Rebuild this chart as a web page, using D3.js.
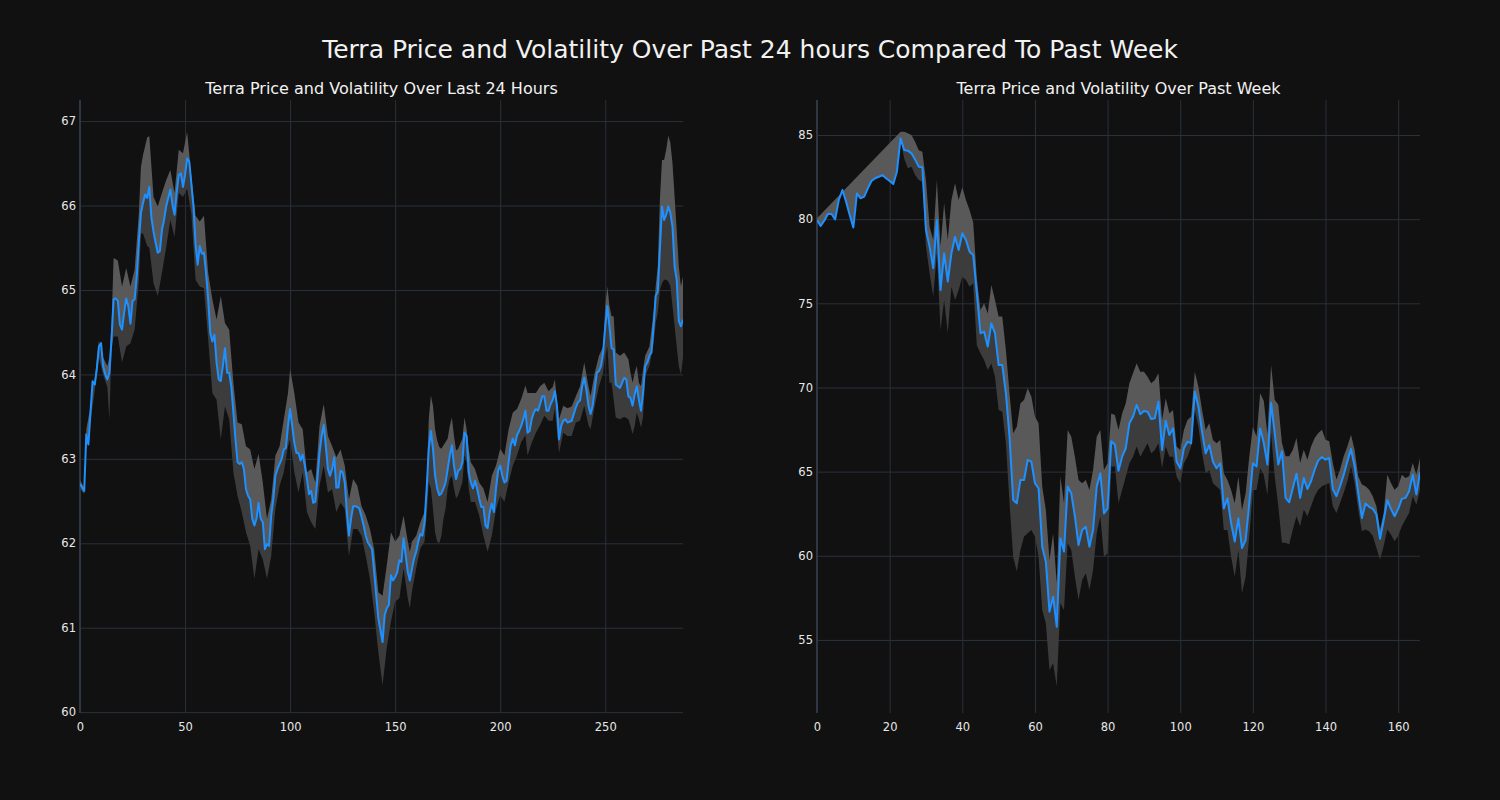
<!DOCTYPE html>
<html>
<head>
<meta charset="utf-8">
<script src="https://cdn.jsdelivr.net/npm/d3@7"></script>
<style>
  html, body { margin: 0; padding: 0; background: #111111; }
  svg { display: block; }
</style>
</head>
<body>
<svg id="chart" width="1500" height="800"></svg>
<script>
// ---------------- DATA ----------------
const mainTitle = "Terra Price and Volatility Over Past 24 hours Compared To Past Week";
const leftTitle = "Terra Price and Volatility Over Last 24 Hours";
const rightTitle = "Terra Price and Volatility Over Past Week";

// 24h price (5-minute steps, index 0..287)
const dayPrice = [62.7,62.66,62.62,63.29,63.17,63.55,63.92,63.88,64.06,64.33,64.37,64.1,64.0,63.94,64.02,64.41,64.89,64.9,64.87,64.59,
64.53,64.73,64.9,64.81,64.6,64.87,64.89,65.16,65.56,65.91,66.03,66.13,66.09,66.22,65.85,65.69,65.56,65.44,65.46,65.71,
65.83,65.99,66.09,66.19,66.01,65.89,66.15,66.36,66.38,66.22,66.36,66.56,66.52,66.26,65.99,65.54,65.3,65.52,65.43,65.44,
65.2,64.89,64.49,64.39,64.47,64.14,63.94,63.92,64.1,64.31,64.02,64.02,63.86,63.55,63.23,62.96,62.94,62.96,62.88,62.64,
62.56,62.52,62.29,62.21,62.29,62.48,62.29,62.25,61.93,61.99,61.97,62.33,62.52,62.8,62.88,62.94,63.0,63.11,63.13,63.39,
63.59,63.39,63.19,63.07,63.07,62.98,63.05,62.92,62.76,62.58,62.62,62.48,62.49,62.76,63.07,63.27,63.4,63.15,62.88,62.8,
62.88,63.02,62.66,62.66,62.86,62.84,62.72,62.37,62.09,62.29,62.44,62.44,62.43,62.41,62.31,62.21,62.09,62.01,61.97,61.93,
61.66,61.38,61.11,60.97,60.83,61.15,61.23,61.27,61.62,61.56,61.6,61.66,61.8,61.78,62.06,61.86,61.66,61.56,61.7,61.82,
61.9,62.02,62.11,62.09,62.25,62.65,63.12,63.33,63.12,62.8,62.65,62.57,62.59,62.65,62.72,62.88,63.04,63.16,62.92,62.76,
62.86,62.88,62.96,63.31,63.27,62.84,62.72,62.65,62.74,62.65,62.53,62.43,62.43,62.21,62.18,62.37,62.47,62.37,62.65,62.86,
62.92,62.8,62.72,62.74,62.96,63.16,63.24,63.16,63.28,63.33,63.39,63.47,63.57,63.31,63.33,63.47,63.55,63.59,63.57,63.65,
63.74,63.74,63.57,63.57,63.65,63.7,63.8,63.63,63.23,63.39,63.45,63.47,63.43,63.44,63.45,63.53,63.61,63.67,63.69,63.86,
63.96,63.82,63.63,63.53,63.63,63.82,64.02,64.04,64.1,64.26,64.57,64.81,64.57,64.31,64.3,63.88,63.86,63.84,63.9,63.96,
63.94,63.74,63.72,63.63,63.76,63.86,63.7,63.57,63.78,64.1,64.14,64.22,64.26,64.57,64.93,64.98,65.48,65.99,65.83,65.89,
65.99,65.91,65.75,65.28,65.12,64.63,64.57,64.65];

// 24h volatility band, read at these indices
const dayBandX = [0,2,3,5,7,9,11,13,14,15,16,18,20,22,24,26,28,29,30,32,33,35,37,39,41,43,45,47,49,51,53,55,57,59,61,63,65,67,69,71,
73,75,77,79,81,83,85,87,89,91,93,95,97,99,100,102,104,106,108,110,112,114,116,118,120,122,124,126,128,130,132,134,136,138,140,142,144,146,148,150,
152,154,156,157,158,160,162,164,165,166,167,168,169,170,171,172,173,174,175,176,177,178,179,180,182,183,184,185,186,188,190,192,194,196,198,200,202,204,206,208,
210,212,213,215,217,219,221,223,225,226,228,230,232,234,236,238,240,242,243,245,247,249,250,251,252,253,254,255,257,259,261,262,263,264,265,266,267,268,269,271,
273,274,275,276,277,278,279,280,281,282,283,284,285,286,287];
const dayUpper = [62.75,62.66,63.35,63.62,63.95,64.4,64.2,64.1,64.2,64.6,65.38,65.35,65.04,65.26,65.04,65.24,65.9,66.46,66.6,66.81,66.82,66.1,65.99,66.15,66.3,66.42,66.15,66.66,66.62,66.87,
66.35,65.88,65.81,65.88,65.2,64.89,64.65,64.93,64.61,64.53,
63.9,63.43,63.41,63.15,63.11,62.88,63.06,62.72,62.29,62.52,63.04,63.15,63.47,63.78,64.06,63.78,63.43,63.35,62.84,62.88,62.72,63.39,63.65,63.27,63.15,63.02,63.11,62.92,62.52,62.76,62.68,62.44,62.33,62.17,61.93,61.42,61.38,61.74,62.13,62.02,
62.09,62.33,62.02,61.9,62.02,62.09,62.25,62.37,62.72,63.47,63.75,63.63,63.35,63.22,63.14,63.12,63.16,63.2,63.24,63.39,63.49,63.27,63.1,63.12,63.24,63.49,63.35,63.12,62.96,62.88,62.72,62.65,62.49,62.8,62.92,63.12,63.04,63.35,63.55,63.59,
63.71,63.87,63.78,63.78,63.78,63.86,63.9,63.8,63.85,63.94,63.47,63.63,63.6,63.62,63.74,63.86,64.14,63.86,63.74,64.02,64.22,64.33,64.81,65.04,64.81,64.69,64.69,64.26,64.22,64.26,64.18,64.02,63.9,64.02,64.1,63.9,63.86,64.06,64.22,64.33,
64.73,65.04,65.28,66.07,66.54,66.54,66.66,66.83,66.74,66.5,66.11,65.71,65.28,65.04,65.16];
const dayLower = [62.65,62.58,63.2,63.45,63.8,64.2,64.0,63.85,63.47,64.3,64.45,64.45,64.14,64.33,64.37,64.53,65.1,65.67,65.67,65.52,65.5,65.08,64.93,65.2,65.5,65.83,65.63,66.15,66.1,66.2,
65.9,65.12,65.04,65.02,64.41,63.78,63.7,63.23,63.62,63.47,
62.84,62.56,62.37,62.13,61.97,61.58,61.93,61.81,61.58,61.85,62.41,62.68,62.84,63.15,63.23,62.84,62.6,62.84,62.37,62.25,62.17,62.68,62.92,62.6,62.64,62.37,62.48,62.41,61.85,62.17,62.17,62.09,61.85,61.58,61.19,60.71,60.32,60.76,61.07,61.31,
61.35,61.7,61.35,61.23,61.43,61.7,61.94,62.02,62.33,62.72,62.65,62.41,62.13,62.02,62.0,62.09,62.29,62.41,62.65,62.76,62.8,62.65,62.53,62.57,62.72,63.04,62.96,62.65,62.49,62.49,62.33,62.09,61.9,62.09,62.4,62.57,62.49,62.72,62.92,63.04,
63.2,63.28,63.04,63.19,63.31,63.4,63.51,63.45,63.45,63.6,63.07,63.31,63.27,63.27,63.43,63.45,63.63,63.4,63.35,63.63,63.86,64.02,64.22,64.33,63.9,63.9,63.7,63.49,63.47,63.5,63.47,63.39,63.29,63.39,63.55,63.47,63.37,63.5,63.98,64.1,
64.37,64.61,64.73,65.0,65.08,65.12,65.12,65.1,65.04,64.81,64.57,64.33,64.1,64.0,64.2];

// Week price (hourly, index 0..166)
const weekPrice = [79.95,79.6,79.91,80.31,80.31,79.99,81.14,81.73,81.04,80.25,79.5,81.53,81.24,81.34,81.83,82.27,82.43,82.52,82.62,82.43,
82.27,82.09,82.82,84.8,84.11,84.07,83.91,83.55,83.12,83.08,79.36,78.37,77.08,79.95,75.79,77.97,76.29,77.97,78.96,78.17,
79.16,78.76,78.07,77.87,75.59,73.22,73.32,72.43,73.81,73.22,71.34,71.34,69.65,67.08,63.32,63.12,64.5,64.5,65.69,65.59,
64.31,64.01,60.54,59.65,56.68,57.57,55.79,61.04,60.25,64.11,63.71,62.33,60.64,61.53,61.73,60.54,61.53,64.11,64.9,62.52,
62.82,66.8,66.6,65.05,65.89,66.39,67.87,68.27,68.96,68.41,68.6,68.56,68.13,68.17,69.16,66.29,68.03,67.18,67.57,65.59,
65.2,66.39,66.78,66.68,69.75,68.86,67.38,66.09,66.58,65.59,65.2,65.5,62.82,63.42,61.93,60.84,62.23,60.45,60.94,63.12,
65.5,65.3,67.57,66.7,65.42,69.1,67.29,65.42,66.21,63.44,63.18,64.03,64.88,63.44,64.62,63.97,64.43,65.12,65.67,65.87,
65.71,65.81,63.97,63.54,64.13,64.82,65.61,66.34,65.32,63.74,62.25,63.1,62.91,62.79,62.45,61.01,62.11,63.3,62.79,62.35,
62.79,63.38,63.44,63.83,64.82,63.64,64.96];

// Week volatility band
const weekUpperX = [0,23,24,25,26,27,28,29,30,31,32,33,34,35,36,37,38,39,40,41,42,43,44,45,46,47,48,49,50,51,52,53,54,55,56,57,58,59,60,
61,62,63,64,65,66,67,68,69,70,71,72,73,74,75,76,77,78,79,80,81,82,83,84,85,86,87,88,89,90,91,92,93,94,95,96,97,98,99,100,
101,102,103,104,105,106,107,108,109,110,111,112,113,114,115,116,117,118,119,120,121,122,123,124,125,126,127,128,129,130,131,132,133,134,135,136,137,138,139,140,
141,142,143,144,145,146,147,148,149,150,151,152,153,154,155,156,157,158,159,160,161,162,163,164,165,166];
const weekUpper = [80.05,85.2,85.2,85.1,85.0,84.6,84.1,84.0,82.3,79.55,78.76,82.33,78.37,80.94,78.76,81.14,82.13,81.14,81.89,81.14,80.54,79.8,76.5,74.6,75.0,74.4,76.09,75.2,74.21,74.21,72.23,69.65,67.28,67.67,69.06,69.26,69.95,69.46,68.27,
67.87,64.11,62.72,59.75,61.34,58.37,64.7,63.12,67.48,67.08,65.89,64.5,64.31,64.5,63.91,65.1,67.08,67.48,65.1,65.5,68.46,68.37,67.48,68.46,69.06,70.25,70.84,71.44,70.94,70.94,70.64,70.25,70.45,70.84,68.07,69.36,68.46,68.66,66.49,66.29,
67.48,68.07,68.27,70.94,70.05,68.66,67.48,67.87,66.88,66.68,66.88,64.9,64.5,63.91,63.12,64.7,62.72,63.71,65.89,67.67,67.08,69.65,69.2,67.2,71.34,69.27,68.97,66.7,65.91,65.91,66.3,67.0,65.52,66.3,65.71,66.5,67.0,67.29,67.49,66.9,
66.8,65.52,64.53,65.12,65.91,66.5,67.19,66.3,64.72,64.23,64.13,63.93,63.54,62.94,61.56,62.55,64.82,64.33,63.93,64.13,64.82,64.62,64.72,65.52,64.82,65.81];
const weekLowerX = [23,24,25,26,27,28,29,30,31,32,33,34,35,36,37,38,39,40,41,42,43,44,45,46,47,48,49,50,51,52,53,54,55,56,57,58,59,60,
61,62,63,64,65,66,67,68,69,70,71,72,73,74,75,76,77,78,79,80,81,82,83,84,85,86,87,88,89,90,91,92,93,94,95,96,97,98,99,100,
101,102,103,104,105,106,107,108,109,110,111,112,113,114,115,116,117,118,119,120,121,122,123,124,125,126,127,128,129,130,131,132,133,134,135,136,137,138,139,140,
141,142,143,144,145,146,147,148,149,150,151,152,153,154,155,156,157,158,159,160,161,162,163,164,165,166];
const weekLower = [84.8,83.6,83.02,83.12,82.62,82.33,82.23,78.37,76.78,75.4,77.97,73.42,75.2,73.22,75.99,75.2,75.79,76.58,76.39,75.99,76.19,72.5,72.03,71.63,71.04,71.43,70.64,68.66,68.56,66.68,63.12,59.95,59.06,60.35,61.14,61.34,61.53,61.14,
59.95,56.78,55.99,53.22,53.61,52.23,57.18,56.78,60.74,60.35,58.76,57.38,58.56,58.96,57.97,59.16,61.34,62.33,59.95,60.15,65.3,65.3,63.12,63.91,64.7,65.5,65.89,66.49,65.89,66.29,66.68,66.09,66.29,66.68,65.2,66.49,65.89,65.89,64.7,64.31,
65.5,65.89,66.49,68.66,67.67,66.09,64.9,65.1,64.31,64.11,63.91,61.53,61.53,59.95,58.76,60.35,57.77,58.76,61.14,63.91,63.91,65.2,64.8,63.6,67.29,64.72,62.94,60.77,60.77,60.67,61.56,62.35,61.76,62.75,62.35,62.94,63.54,63.93,64.13,64.23,
64.33,62.94,62.55,63.14,63.74,64.43,65.32,64.33,62.75,61.46,61.56,61.46,61.17,60.47,59.78,60.57,61.56,61.26,60.87,61.17,61.76,62.15,62.55,63.54,63.04,63.93];

// Tick labels
const dayXTicks = [0, 50, 100, 150, 200, 250];
const dayYTicks = [60, 61, 62, 63, 64, 65, 66, 67];
const weekXTicks = [0, 20, 40, 60, 80, 100, 120, 140, 160];
const weekYTicks = [55, 60, 65, 70, 75, 80, 85];

// ---------------- DRAW ----------------
const svg = d3.select("#chart");
const FONT = "DejaVu Sans, Verdana, sans-serif";
const COLORS = { bg: "#111111", grid: "#29313b", spine: "#2e3845", text: "#e8e8e8",
                 line: "#1e90ff", light: "#595959", dark: "#3c3c3c" };

svg.append("rect").attr("width", 1500).attr("height", 800).attr("fill", COLORS.bg);

svg.append("text")
  .attr("x", 750).attr("y", 51)
  .attr("text-anchor", "middle").attr("dominant-baseline", "middle")
  .attr("font-family", FONT).attr("font-size", 25).attr("fill", "#f2f2f2")
  .text(mainTitle);

function drawPanel(cfg) {
  const x = d3.scaleLinear().domain(cfg.xDomain).range([cfg.left, cfg.right]);
  const y = d3.scaleLinear().domain(cfg.yDomain).range([cfg.bottom, cfg.top]);
  const g = svg.append("g");

  const gx = g.append("g").attr("transform", `translate(0,${cfg.bottom})`)
    .call(d3.axisBottom(x).tickValues(cfg.xTicks).tickSize(-(cfg.bottom - cfg.top)).tickPadding(10).tickFormat(d3.format("d")));
  const gy = g.append("g").attr("transform", `translate(${cfg.left},0)`)
    .call(d3.axisLeft(y).tickValues(cfg.yTicks).tickSize(-(cfg.right - cfg.left)).tickPadding(4).tickFormat(d3.format("d")));
  [gx, gy].forEach(a => {
    a.select(".domain").remove();
    a.selectAll(".tick line").attr("stroke", COLORS.grid).attr("stroke-width", 1);
    a.selectAll(".tick text").attr("fill", COLORS.text).attr("font-family", FONT).attr("font-size", 11.5);
  });

  g.append("line").attr("x1", cfg.left).attr("x2", cfg.left)
    .attr("y1", cfg.top).attr("y2", cfg.bottom)
    .attr("stroke", COLORS.spine).attr("stroke-width", 2);

  const clipId = "clip-" + cfg.id;
  svg.append("clipPath").attr("id", clipId).append("rect")
    .attr("x", cfg.left).attr("y", cfg.top)
    .attr("width", cfg.right - cfg.left).attr("height", cfg.bottom - cfg.top);
  const plot = g.append("g").attr("clip-path", `url(#${clipId})`);

  const lineGen = d3.line().x(d => x(d[0])).y(d => y(d[1]));
  const pricePts = cfg.price.map((v, i) => [i, v]);
  const priceBetween = (a, b) => pricePts.filter(p => p[0] >= a && p[0] <= b);

  const upPts = cfg.upperX.map((xv, k) => [xv, cfg.upper[k]]);
  const lightPoly = upPts.concat(priceBetween(upPts[0][0], upPts[upPts.length - 1][0]).reverse());
  plot.append("path").attr("d", lineGen(lightPoly) + "Z").attr("fill", COLORS.light);

  const loPts = cfg.lowerX.map((xv, k) => [xv, cfg.lower[k]]);
  const darkPoly = priceBetween(loPts[0][0], loPts[loPts.length - 1][0]).concat(loPts.slice().reverse());
  plot.append("path").attr("d", lineGen(darkPoly) + "Z").attr("fill", COLORS.dark);

  plot.append("path").attr("d", lineGen(pricePts))
    .attr("fill", "none").attr("stroke", COLORS.line).attr("stroke-width", 2)
    .attr("stroke-linejoin", "round");

  svg.append("text")
    .attr("x", (cfg.left + cfg.right) / 2).attr("y", 89)
    .attr("text-anchor", "middle").attr("dominant-baseline", "middle")
    .attr("font-family", FONT).attr("font-size", 16).attr("fill", "#f2f2f2")
    .text(cfg.title);
}

drawPanel({
  id: "day", title: leftTitle,
  left: 80, right: 683, top: 100, bottom: 713,
  xDomain: [0, dayPrice.length - 1], yDomain: [59.99, 67.25],
  xTicks: dayXTicks, yTicks: dayYTicks,
  price: dayPrice, upperX: dayBandX, upper: dayUpper, lowerX: dayBandX, lower: dayLower
});

drawPanel({
  id: "week", title: rightTitle,
  left: 817, right: 1420, top: 100, bottom: 713,
  xDomain: [0, weekPrice.length - 1], yDomain: [50.66, 87.08],
  xTicks: weekXTicks, yTicks: weekYTicks,
  price: weekPrice, upperX: weekUpperX, upper: weekUpper, lowerX: weekLowerX, lower: weekLower
});
</script>
</body>
</html>
